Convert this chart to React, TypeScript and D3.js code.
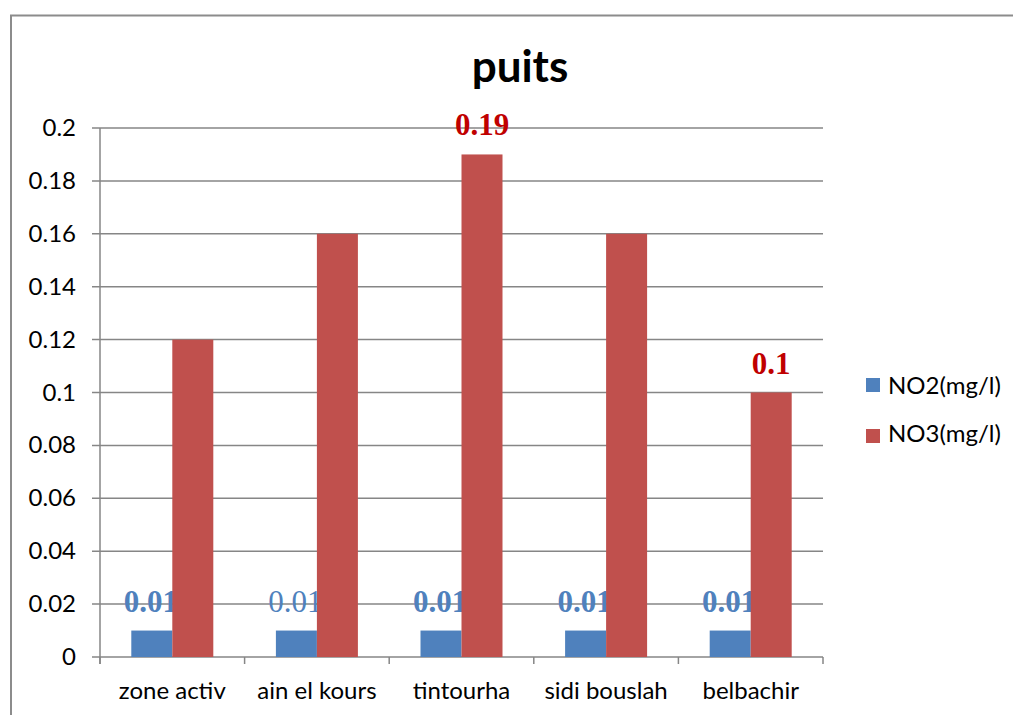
import React from "react";
import * as d3 from "d3";

const categories = ["zone activ", "ain el kours", "tintourha", "sidi bouslah", "belbachir"];
const no2 = [0.01, 0.01, 0.01, 0.01, 0.01];
const no3 = [0.12, 0.16, 0.19, 0.16, 0.1];
const seriesNames = ["NO2(mg/l)", "NO3(mg/l)"];
const yTicks = [0, 0.02, 0.04, 0.06, 0.08, 0.1, 0.12, 0.14, 0.16, 0.18, 0.2];
const no2LabelShown = [true, true, true, true, true];
const no2LabelBold = [true, false, true, true, true];
const no3LabelShown = [false, false, true, false, true];

const colors = ["#4F81BD", "#C0504D"];
const font = "Lato, 'Open Sans', 'Liberation Sans', sans-serif";
const serif = "'Liberation Serif', 'Times New Roman', serif";

export default function App() {
  const W = 1013, H = 715;
  const left = 100, right = 823, top = 128, bottom = 657;
  const x = d3.scaleBand<string>().domain(categories).range([left, right]).paddingInner(0).paddingOuter(0);
  const y = d3.scaleLinear().domain([0, 0.2]).range([bottom, top]);
  const bw = 41;
  const bx = (i: number) => (x(categories[i]) as number) + x.bandwidth() / 2;
  const ticksX = categories.map((c) => x(c) as number).concat([right]);

  return (
    <svg width={W} height={H} style={{ position: "absolute", left: 0, top: 0, display: "block" }}>
      <rect x={0} y={0} width={W} height={H} fill="#fff" />
      <path d={`M11,${H} V15.5 H${W}`} fill="none" stroke="#8c8c8c" strokeWidth={2} />
      <text x={520} y={82} textAnchor="middle" fontFamily={font} fontWeight="bold" fontSize={44} fill="#000">puits</text>
      {yTicks.map((t) => (
        <g key={t}>
          <line x1={92} x2={right} y1={y(t)} y2={y(t)} stroke="#868686" strokeWidth={1.5} />
          <text x={76} y={y(t) + 8} textAnchor="end" fontFamily={font} fontSize={24} fill="#000">{String(t)}</text>
        </g>
      ))}
      <line x1={left} x2={left} y1={top} y2={bottom + 7} stroke="#868686" strokeWidth={1.5} />
      {ticksX.map((tx, i) => (
        <line key={i} x1={tx} x2={tx} y1={bottom} y2={bottom + 7} stroke="#868686" strokeWidth={1.5} />
      ))}
      {categories.map((c, i) => (
        <g key={c}>
          <rect x={bx(i) - bw} y={y(no2[i])} width={bw} height={bottom - y(no2[i])} fill={colors[0]} />
          {no2LabelShown[i] && (
            <text x={bx(i) - bw / 2 - 1} y={612} textAnchor="middle" fontFamily={serif} fontWeight={no2LabelBold[i] ? "bold" : "normal"} fontSize={31} fill={colors[0]}>{String(no2[i])}</text>
          )}
          <rect x={bx(i)} y={y(no3[i])} width={bw} height={bottom - y(no3[i])} fill={colors[1]} />
          {no3LabelShown[i] && (
            <text x={bx(i) + bw / 2} y={y(no3[i]) - 19} textAnchor="middle" fontFamily={serif} fontWeight="bold" fontSize={31} fill="#C00000">{String(no3[i])}</text>
          )}
          <text x={bx(i)} y={699} textAnchor="middle" fontFamily={font} fontSize={24} fill="#000">{c}</text>
        </g>
      ))}
      {seriesNames.map((s, i) => (
        <g key={s}>
          <rect x={866} y={378 + i * 51} width={14} height={14} fill={colors[i]} />
          <text x={888} y={394 + i * 48} fontFamily={font} fontSize={24} fill="#000">{s}</text>
        </g>
      ))}
    </svg>
  );
}
